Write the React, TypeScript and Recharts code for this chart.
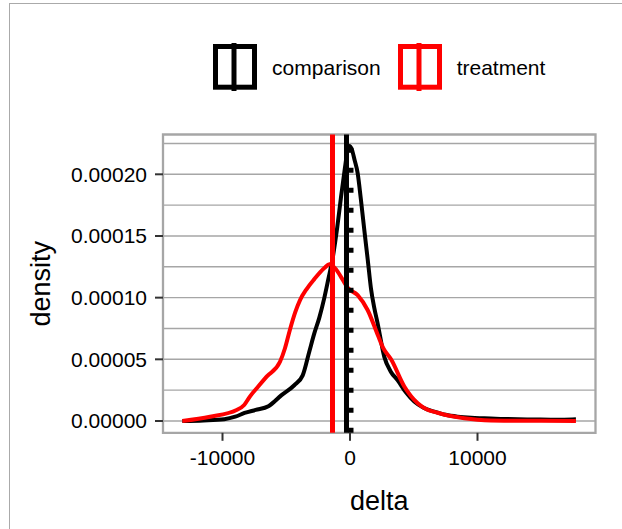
import {
  Legend,
  Line,
  LineChart,
  ReferenceArea,
  ReferenceLine,
  XAxis,
  YAxis,
} from "recharts";

const FONT = '"Liberation Sans", Arial, sans-serif';
const GRID = "#a6a6a6";

// delta values and density estimates
const COMPARISON_X = [
  -13150, -11500, -9860, -9000, -8270, -7400, -6400, -5370, -4370, -3710, -3200, -2800, -2400,
  -2010, -1700, -1360, -1000, -700, -400, -180, -50, 150, 350, 600, 850, 1120, 1400, 1650, 1900,
  2170, 2690, 3200, 3740, 4400, 5040, 5800, 6610, 7500, 8440, 9500, 10530, 11800, 13150, 14500,
  15760, 16800, 17720,
];
const COMPARISON_Y = [
  0, 0.0000005, 0.0000015, 0.0000035, 0.0000065, 0.000009, 0.000012, 0.000021, 0.000029, 0.000037,
  0.000056, 0.000071, 0.000084, 0.0001, 0.000115, 0.000132, 0.000157, 0.000182, 0.000205,
  0.00022, 0.000223, 0.00022, 0.000212, 0.000201, 0.00018, 0.000155, 0.00013, 0.000107, 0.000092,
  0.000079, 0.000052, 0.00004, 0.000033, 0.000023, 0.0000157, 0.0000105, 0.0000076, 0.000005,
  0.0000035, 0.0000026, 0.0000022, 0.0000017, 0.0000014, 0.0000012, 0.000001, 0.0000011,
  0.0000014,
];

const TREATMENT_X = [
  -13150, -10980, -8890, -8300, -7840, -7200, -6540, -5490, -5100, -4710, -4300, -3920, -3400,
  -2800, -2010, -1620, -1100, -600, -180, 600, 1380, 2170, 2610, 3220, 4260, 5310, 6000, 6870,
  7900, 8960, 10000, 11050, 13000, 15000, 17720,
];
const TREATMENT_Y = [
  0, 0.0000035, 0.0000089, 0.000013, 0.00002, 0.000028, 0.000036, 0.000048, 0.000059, 0.000074,
  0.000088, 0.000098, 0.000107, 0.000115, 0.000124, 0.000127, 0.000123, 0.000115, 0.000108,
  0.000102, 0.00009, 0.00007, 0.000059, 0.00005, 0.000028, 0.0000144, 0.0000095, 0.0000067,
  0.000004, 0.0000022, 0.000001, 0.0000004, 0.0000002, 0.0000001, 0,
];

// vertical reference lines (means / median)
const TREATMENT_MEAN = -1373;
const COMPARISON_MEAN = -275;
const COMPARISON_MEDIAN = 78;

const X_DOMAIN: [number, number] = [-14667, 19255];
const Y_DOMAIN: [number, number] = [-0.00000957, 0.00023227];
const X_TICKS = [-10000, 0, 10000];
const Y_TICKS = [0, 0.00005, 0.0001, 0.00015, 0.0002];
const Y_MINOR = [0.000025, 0.000075, 0.000125, 0.000175, 0.000225];

const comparison = COMPARISON_X.map((x, i) => ({ x, y: COMPARISON_Y[i] }));
const treatment = TREATMENT_X.map((x, i) => ({ x, y: TREATMENT_Y[i] }));

function VlineKey({ color }: { color: string }) {
  return (
    <svg width={44} height={48} style={{ display: "block" }}>
      <rect x={2.5} y={3.5} width={39} height={40.7} fill="none" stroke={color} strokeWidth={5} />
      <line x1={21} x2={21} y1={0} y2={48} stroke={color} strokeWidth={5} />
    </svg>
  );
}

function KeyLegend({ payload }: any) {
  const items = (payload ?? []).filter((p: any) => p.type !== "none");
  return (
    <div
      style={{
        display: "flex",
        alignItems: "center",
        justifyContent: "center",
        fontFamily: FONT,
        fontSize: 21,
        color: "#000",
      }}
    >
      {items.map((p: any, i: number) => (
        <div key={i} style={{ display: "flex", alignItems: "center", marginLeft: i ? 17 : 0 }}>
          <VlineKey color={p.color} />
          <span style={{ marginLeft: 15, paddingTop: 2 }}>{p.value}</span>
        </div>
      ))}
    </div>
  );
}

export default function App() {
  return (
    <div style={{ position: "absolute", left: 0, top: 0, width: 622, height: 529, background: "#fff" }}>
      <div
        style={{
          position: "absolute",
          left: 9,
          top: 3,
          width: 640,
          height: 560,
          borderLeft: "1px solid #aaaaaa",
          borderTop: "1px solid #aaaaaa",
        }}
      />
      <LineChart
        width={622}
        height={529}
        margin={{ top: 134.5, right: 26.5, bottom: 19, left: 0 }}
        style={{ fontFamily: FONT }}
      >
        <XAxis
          type="number"
          dataKey="x"
          domain={X_DOMAIN}
          ticks={X_TICKS}
          allowDataOverflow
          axisLine={false}
          tickSize={8}
          tickMargin={9}
          tickLine={{ stroke: "#333", strokeWidth: 2 }}
          tick={{ fill: "#000", fontSize: 21, fontFamily: FONT }}
          height={77.2}
          label={{ value: "delta", position: "insideBottom", offset: 0, fill: "#000", fontSize: 27, fontFamily: FONT }}
        />
        <YAxis
          type="number"
          dataKey="y"
          domain={Y_DOMAIN}
          ticks={Y_TICKS}
          allowDataOverflow
          axisLine={false}
          width={163}
          tickSize={8}
          tickMargin={8}
          tickLine={{ stroke: "#333", strokeWidth: 2 }}
          tick={{ fill: "#000", fontSize: 21, fontFamily: FONT }}
          tickFormatter={(v: number) => v.toFixed(5)}
          label={{
            value: "density",
            angle: -90,
            position: "insideLeft",
            offset: 40,
            fill: "#000",
            fontSize: 27,
            fontFamily: FONT,
            style: { textAnchor: "middle" },
          }}
        />
        {Y_MINOR.map((v) => (
          <ReferenceLine key={"m" + v} y={v} stroke={GRID} strokeWidth={1.4} />
        ))}
        {Y_TICKS.map((v) => (
          <ReferenceLine key={"g" + v} y={v} stroke={GRID} strokeWidth={1.4} />
        ))}
        <Line
          data={comparison}
          dataKey="y"
          name="comparison"
          type="monotone"
          stroke="#000"
          strokeWidth={4}
          dot={false}
          activeDot={false}
          isAnimationActive={false}
        />
        <Line
          data={treatment}
          dataKey="y"
          name="treatment"
          type="monotone"
          stroke="#ff0000"
          strokeWidth={4}
          dot={false}
          activeDot={false}
          isAnimationActive={false}
        />
        <ReferenceLine x={COMPARISON_MEDIAN} stroke="#000" strokeWidth={5} strokeDasharray="5 15" />
        <ReferenceLine x={COMPARISON_MEAN} stroke="#000" strokeWidth={5} />
        <ReferenceLine x={TREATMENT_MEAN} stroke="#ff0000" strokeWidth={5} />
        <ReferenceArea
          x1={X_DOMAIN[0]}
          x2={X_DOMAIN[1]}
          y1={Y_DOMAIN[0]}
          y2={Y_DOMAIN[1]}
          fill="none"
          stroke={GRID}
          strokeWidth={2.3}
          fillOpacity={0}
        />
        <Legend
          layout="horizontal"
          verticalAlign="middle"
          align="center"
          content={<KeyLegend />}
          wrapperStyle={{ left: 163, top: 43, width: 432.5, height: 48 }}
        />
      </LineChart>
    </div>
  );
}
